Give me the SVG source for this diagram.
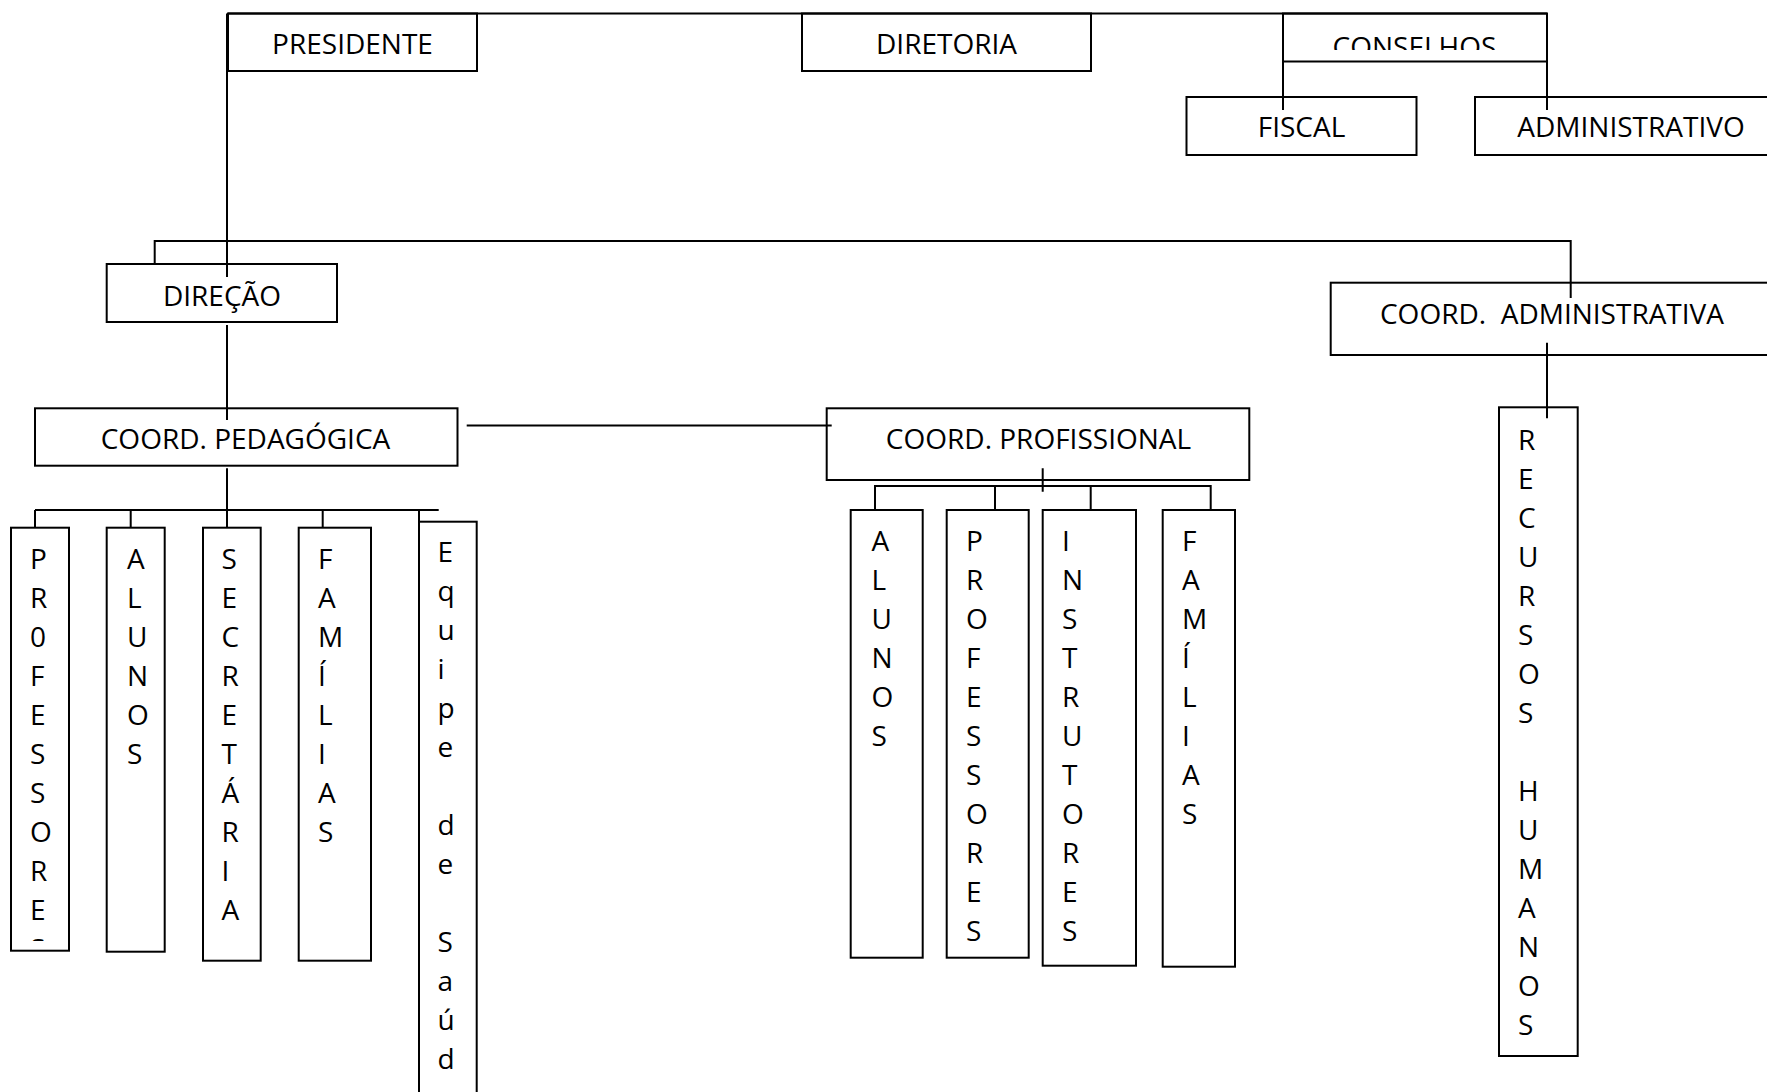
<svg xmlns="http://www.w3.org/2000/svg" width="1767" height="1092" viewBox="0 0 1767 1092">
<style>
.box{fill:#fff;stroke:#000;stroke-width:2}
.ln{fill:none;stroke:#000;stroke-width:2}
.t{font-family:"Open Sans","Noto Sans",sans-serif;font-size:28px;fill:#000}
.c{text-anchor:middle}
</style>
<defs>
<clipPath id="clipCons"><rect x="1283" y="13" width="264" height="37"/></clipPath>
<clipPath id="clipProf"><rect x="11" y="527" width="58" height="414"/></clipPath>
</defs>
<rect width="1767" height="1092" fill="#fff"/>
<g id="n-presidente"><rect class="box" x="228" y="13.5" width="249" height="57.5"/><text class="t c" x="352.5" y="53.5">PRESIDENTE</text></g>
<g id="n-diretoria"><rect class="box" x="802" y="13.5" width="289" height="57.5"/><text class="t c" x="946.5" y="53.5">DIRETORIA</text></g>
<g id="n-conselhos"><rect class="box" x="1283" y="13.5" width="264" height="48"/><text class="t c" x="1414.5" y="56.5" clip-path="url(#clipCons)">CONSELHOS</text></g>
<g id="n-fiscal"><rect class="box" x="1186.5" y="97" width="230" height="58"/><text class="t c" x="1301.5" y="137">FISCAL</text></g>
<g id="n-administrativo"><rect class="box" x="1475" y="97" width="320" height="58"/><text class="t c" x="1631" y="137">ADMINISTRATIVO</text></g>
<g id="n-direcao"><rect class="box" x="106.7" y="264" width="230.3" height="58"/><text class="t c" x="222" y="306">DIREÇÃO</text></g>
<g id="n-coord-adm"><rect class="box" x="1330.7" y="282.7" width="460" height="72.3"/><text class="t c" x="1552" y="324" xml:space="preserve">COORD.  ADMINISTRATIVA</text></g>
<g id="n-coord-ped"><rect class="box" x="35" y="408.3" width="422.5" height="57.4"/><text class="t c" x="245.5" y="449">COORD. PEDAGÓGICA</text></g>
<g id="n-coord-prof"><rect class="box" x="826.7" y="408.3" width="422.6" height="71.7"/><text class="t c" x="1038.5" y="449.3">COORD. PROFISSIONAL</text></g>

<g id="n-ped-professores"><rect class="box" x="11" y="527.7" width="58" height="423"/>
<text class="t"><tspan x="30" y="569">P</tspan><tspan x="30" y="608">R</tspan><tspan x="30" y="647">0</tspan><tspan x="30" y="686">F</tspan><tspan x="30" y="725">E</tspan><tspan x="30" y="764">S</tspan><tspan x="30" y="803">S</tspan><tspan x="30" y="842">O</tspan><tspan x="30" y="881">R</tspan><tspan x="30" y="920">E</tspan></text>
<text class="t" x="30" y="959" clip-path="url(#clipProf)">S</text></g>
<g id="n-ped-alunos"><rect class="box" x="106.7" y="527.7" width="58" height="424"/>
<text class="t"><tspan x="127" y="569">A</tspan><tspan x="127" y="608">L</tspan><tspan x="127" y="647">U</tspan><tspan x="127" y="686">N</tspan><tspan x="127" y="725">O</tspan><tspan x="127" y="764">S</tspan></text></g>
<g id="n-ped-secretaria"><rect class="box" x="203" y="527.7" width="57.7" height="433"/>
<text class="t"><tspan x="221.5" y="569">S</tspan><tspan x="221.5" y="608">E</tspan><tspan x="221.5" y="647">C</tspan><tspan x="221.5" y="686">R</tspan><tspan x="221.5" y="725">E</tspan><tspan x="221.5" y="764">T</tspan><tspan x="221.5" y="803">Á</tspan><tspan x="221.5" y="842">R</tspan><tspan x="221.5" y="881">I</tspan><tspan x="221.5" y="920">A</tspan></text></g>
<g id="n-ped-familias"><rect class="box" x="298.7" y="527.7" width="72.3" height="433"/>
<text class="t"><tspan x="318" y="569">F</tspan><tspan x="318" y="608">A</tspan><tspan x="318" y="647">M</tspan><tspan x="318" y="686">Í</tspan><tspan x="318" y="725">L</tspan><tspan x="318" y="764">I</tspan><tspan x="318" y="803">A</tspan><tspan x="318" y="842">S</tspan></text></g>
<g id="n-ped-equipe"><rect class="box" x="419" y="521.7" width="57.7" height="620"/>
<text class="t"><tspan x="437.5" y="562">E</tspan><tspan x="437.5" y="601">q</tspan><tspan x="437.5" y="640">u</tspan><tspan x="437.5" y="679">i</tspan><tspan x="437.5" y="718">p</tspan><tspan x="437.5" y="757">e</tspan><tspan x="437.5" y="835">d</tspan><tspan x="437.5" y="874">e</tspan><tspan x="437.5" y="952">S</tspan><tspan x="437.5" y="991">a</tspan><tspan x="437.5" y="1030">ú</tspan><tspan x="437.5" y="1069">d</tspan></text></g>

<g id="n-prof-alunos"><rect class="box" x="850.7" y="510" width="72" height="447.7"/>
<text class="t"><tspan x="871.5" y="551">A</tspan><tspan x="871.5" y="590">L</tspan><tspan x="871.5" y="629">U</tspan><tspan x="871.5" y="668">N</tspan><tspan x="871.5" y="707">O</tspan><tspan x="871.5" y="746">S</tspan></text></g>
<g id="n-prof-professores"><rect class="box" x="946.7" y="510" width="82" height="447.7"/>
<text class="t"><tspan x="966" y="551">P</tspan><tspan x="966" y="590">R</tspan><tspan x="966" y="629">O</tspan><tspan x="966" y="668">F</tspan><tspan x="966" y="707">E</tspan><tspan x="966" y="746">S</tspan><tspan x="966" y="785">S</tspan><tspan x="966" y="824">O</tspan><tspan x="966" y="863">R</tspan><tspan x="966" y="902">E</tspan><tspan x="966" y="941">S</tspan></text></g>
<g id="n-prof-instrutores"><rect class="box" x="1042.7" y="510" width="93.3" height="455.7"/>
<text class="t"><tspan x="1062" y="551">I</tspan><tspan x="1062" y="590">N</tspan><tspan x="1062" y="629">S</tspan><tspan x="1062" y="668">T</tspan><tspan x="1062" y="707">R</tspan><tspan x="1062" y="746">U</tspan><tspan x="1062" y="785">T</tspan><tspan x="1062" y="824">O</tspan><tspan x="1062" y="863">R</tspan><tspan x="1062" y="902">E</tspan><tspan x="1062" y="941">S</tspan></text></g>
<g id="n-prof-familias"><rect class="box" x="1162.7" y="510" width="72.3" height="456.7"/>
<text class="t"><tspan x="1182" y="551">F</tspan><tspan x="1182" y="590">A</tspan><tspan x="1182" y="629">M</tspan><tspan x="1182" y="668">Í</tspan><tspan x="1182" y="707">L</tspan><tspan x="1182" y="746">I</tspan><tspan x="1182" y="785">A</tspan><tspan x="1182" y="824">S</tspan></text></g>

<g id="n-recursos"><rect class="box" x="1499" y="407.3" width="78.7" height="648.7"/>
<text class="t"><tspan x="1518" y="449.5">R</tspan><tspan x="1518" y="488.5">E</tspan><tspan x="1518" y="527.5">C</tspan><tspan x="1518" y="566.5">U</tspan><tspan x="1518" y="605.5">R</tspan><tspan x="1518" y="644.5">S</tspan><tspan x="1518" y="683.5">O</tspan><tspan x="1518" y="722.5">S</tspan><tspan x="1518" y="800.5">H</tspan><tspan x="1518" y="839.5">U</tspan><tspan x="1518" y="878.5">M</tspan><tspan x="1518" y="917.5">A</tspan><tspan x="1518" y="956.5">N</tspan><tspan x="1518" y="995.5">O</tspan><tspan x="1518" y="1034.5">S</tspan></text></g>

<g id="connectors" class="ln">
<path d="M228 13.5H1547"/>
<path d="M227 13.5V277"/>
<path d="M154.7 264V241H1570.7V298"/>
<path d="M1283 61.3V110M1547 61.3V110"/>
<path d="M227 325V420"/>
<path d="M466.7 425.5H831.7"/>
<path d="M227 468.3V510M35 510H438.7M35 510V527.7M130.7 510V527.7M227 510V527.7M322.7 510V527.7M419 510V521.7"/>
<path d="M1042.7 468.3V491.7M875 509V486H1210.7V509M995 486V509M1090.7 486V509"/>
<path d="M1547 342.7V418.3"/>
</g>
</svg>
